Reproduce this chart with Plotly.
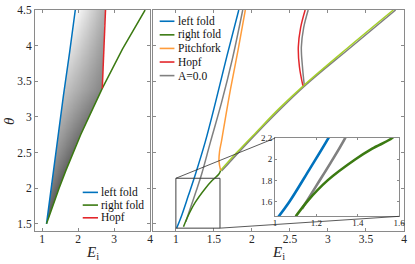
import numpy as np
import plotly.graph_objects as go

# ---------------- data ----------------
# left panel (A > 0 case with shaded region)
lp_left_E = [1.12, 1.27, 1.43, 1.59, 1.76, 1.92]
lp_left_th = [1.50, 2.10, 2.70, 3.30, 3.90, 4.50]
lp_right_E = [1.12, 1.29, 1.47, 1.66, 1.86, 2.07, 2.30, 2.48, 2.67, 3.23, 3.86]
lp_right_th = [1.50, 1.75, 2.00, 2.25, 2.50, 2.75, 3.00, 3.20, 3.40, 3.95, 4.50]
lp_hopf_E = [2.67, 2.69, 2.71, 2.735, 2.76]
lp_hopf_th = [3.40, 3.65, 3.90, 4.20, 4.50]

# right panel
rp_left_E = [1.01, 1.07, 1.165, 1.258, 1.386, 1.52, 1.67, 1.827]
rp_left_th = [1.44, 1.60, 1.90, 2.20, 2.65, 3.20, 3.85, 4.50]
rp_right_E = [1.10, 1.155, 1.254, 1.389, 1.47, 1.566, 1.588]
rp_right_th = [1.46, 1.60, 1.80, 2.00, 2.10, 2.20, 2.25]
rp_right2_E = [1.588, 1.80, 2.06, 2.36, 2.68, 3.25, 3.86]
rp_right2_th = [2.25, 2.50, 2.79, 3.12, 3.44, 3.96, 4.50]
rp_pitch_E = [1.588, 1.567, 1.575, 1.60, 1.63, 1.72, 1.82, 1.913]
rp_pitch_th = [2.25, 2.38, 2.52, 2.66, 2.85, 3.40, 3.95, 4.50]
rp_hopf_E = [2.67, 2.625, 2.61, 2.64, 2.70]
rp_hopf_th = [3.44, 3.70, 3.98, 4.25, 4.50]
a0_fold_E = [1.13, 1.20, 1.27, 1.339, 1.455, 1.60, 1.74, 1.879]
a0_fold_th = [1.53, 1.75, 1.97, 2.20, 2.65, 3.20, 3.80, 4.50]
a0_right_E = [1.60, 2.07, 2.69, 3.27, 3.89]
a0_right_th = [2.24, 2.78, 3.43, 3.95, 4.50]
a0_hopf_E = [2.69, 2.665, 2.65, 2.68, 2.74]
a0_hopf_th = [3.43, 3.70, 3.98, 4.25, 4.50]

# zoom window and inset
zoom_E = [1.0, 1.58]
zoom_th = [1.44, 2.14]
inset_E = [1.0, 1.6]
inset_th = [1.46, 2.2]

# axes
XR1 = [0.8, 4.0]
XR2 = [0.7, 4.0]
YR = [1.4, 4.5]
x1_ticks = [1, 2, 3, 4]
x2_ticks = [1, 1.5, 2, 2.5, 3, 3.5, 4]
y_ticks = [1.5, 2, 2.5, 3, 3.5, 4, 4.5]
ix_ticks = [1, 1.2, 1.4, 1.6]
iy_ticks = [1.6, 1.8, 2, 2.2]

legend_left = ["left fold", "right fold", "Hopf"]
legend_right = ["left fold", "right fold", "Pitchfork", "Hopf", "A=0.0"]
x_title = "<i>E</i><sub>i</sub>"
y_title = "<i>θ</i>"

# ---------------- styles ----------------
BLUE = "#0072BD"
GREEN = "#3B7A12"
LIME = "#A5CF2A"
ORANGE = "#FF9C3A"
RED = "#E3262B"
GRAY = "#808080"
FONT = "Liberation Serif"
TXT = "#262626"
legend_left_colors = [BLUE, GREEN, RED]
legend_right_colors = [BLUE, GREEN, ORANGE, RED, GRAY]

W, H = 415, 264
ML, MR, MT, MB = 35, 5, 5, 33
PW, PH = W - ML - MR, H - MT - MB


def fx(px):
    return (px - ML) / PW


def fy(py):
    return (H - MB - py) / PH


LEFT_DOM = [fx(35), fx(152)]
RIGHT_DOM = [fx(155), fx(410)]
INSET_XDOM = [fx(279), fx(405)]
INSET_YDOM = [fy(216), fy(136)]

fig = go.Figure()

# ---------- shaded region (left panel) ----------
E_grid = np.linspace(XR1[0], XR1[1], 360)
th_grid = np.linspace(YR[0], YR[1], 420)
EE, TT = np.meshgrid(E_grid, th_grid)
left_b = np.interp(TT, lp_left_th, lp_left_E)
right_b = np.where(TT <= lp_hopf_th[0],
                   np.interp(TT, lp_right_th, lp_right_E),
                   np.interp(TT, lp_hopf_th, lp_hopf_E))
inside = (TT >= lp_left_th[0]) & (TT <= lp_left_th[-1]) & (EE >= left_b) & (EE <= right_b)
u = np.clip((EE - left_b) / np.maximum(right_b - left_b, 1e-6), 0, 1)
v = np.clip((TT - lp_left_th[0]) / (lp_left_th[-1] - lp_left_th[0]), 0, 1)
Z = 100 + 155 * v - 80 * u * np.sqrt(v)
Z = np.where(inside, np.clip(Z, 0, 255), np.nan)
fig.add_trace(go.Heatmap(x=E_grid, y=th_grid, z=Z, xaxis="x", yaxis="y",
                         colorscale=[[0, "rgb(0,0,0)"], [1, "rgb(255,255,255)"]],
                         zmin=0, zmax=255, showscale=False, hoverinfo="skip"))


def line(x, y, color, xa, ya, width=1.5, shape="spline"):
    fig.add_trace(go.Scatter(x=x, y=y, mode="lines", xaxis=xa, yaxis=ya,
                             line=dict(color=color, width=width, shape=shape),
                             showlegend=False, hoverinfo="skip"))


# left panel lines
line(lp_left_E, lp_left_th, BLUE, "x", "y", shape="linear")
line(lp_right_E, lp_right_th, GREEN, "x", "y", shape="linear")
line(lp_hopf_E, lp_hopf_th, RED, "x", "y", shape="linear")

# right panel lines
line(a0_fold_E, a0_fold_th, GRAY, "x2", "y2")
line(a0_right_E, a0_right_th, GRAY, "x2", "y2")
line(a0_hopf_E, a0_hopf_th, GRAY, "x2", "y2")
line(rp_left_E, rp_left_th, BLUE, "x2", "y2")
line(rp_right_E, rp_right_th, GREEN, "x2", "y2")
line(rp_right2_E, rp_right2_th, LIME, "x2", "y2")
line(rp_pitch_E, rp_pitch_th, ORANGE, "x2", "y2")
line(rp_hopf_E, rp_hopf_th, RED, "x2", "y2")

# inset lines
line(a0_fold_E, a0_fold_th, GRAY, "x3", "y3", width=2.6)
line(rp_left_E, rp_left_th, BLUE, "x3", "y3", width=2.6)
line(rp_right_E, rp_right_th, GREEN, "x3", "y3", width=2.6)

# ---------- axes ----------
AX = dict(showline=True, linecolor="#8a8a8a", linewidth=1, mirror="ticks",
          ticks="inside", ticklen=3, tickcolor="#8a8a8a", showgrid=False,
          zeroline=False, tickfont=dict(family=FONT, size=11.5, color=TXT))

fig.update_layout(
    width=W, height=H, margin=dict(l=ML, r=MR, t=MT, b=MB),
    paper_bgcolor="white", plot_bgcolor="white", showlegend=False,
    xaxis=dict(AX, domain=LEFT_DOM, range=XR1, tickvals=x1_ticks, anchor="y", ticklabelstandoff=-3),
    yaxis=dict(AX, domain=[0, 1], range=YR, tickvals=y_ticks, anchor="x"),
    xaxis2=dict(AX, domain=RIGHT_DOM, range=XR2, tickvals=x2_ticks, anchor="y2", ticklabelstandoff=-3),
    yaxis2=dict(AX, domain=[0, 1], range=YR, tickvals=y_ticks, anchor="x2", showticklabels=False),
    xaxis3=dict(AX, domain=INSET_XDOM, range=inset_E, tickvals=ix_ticks, anchor="y3",
                ticklen=2, ticklabelstandoff=-2, tickfont=dict(family=FONT, size=9, color=TXT)),
    yaxis3=dict(AX, domain=INSET_YDOM, range=inset_th, tickvals=iy_ticks, anchor="x3",
                ticklen=2, tickfont=dict(family=FONT, size=9, color=TXT)),
)


# ---------- zoom box and connectors ----------
def e_from_paper(p):
    return XR2[0] + (p - RIGHT_DOM[0]) / (RIGHT_DOM[1] - RIGHT_DOM[0]) * (XR2[1] - XR2[0])


def th_from_paper(q):
    return YR[0] + q * (YR[1] - YR[0])


shapes = [dict(type="rect", xref="x2", yref="y2", x0=zoom_E[0], x1=zoom_E[1],
               y0=zoom_th[0], y1=zoom_th[1], line=dict(color="#404040", width=1))]
shapes.append(dict(type="line", xref="x2", yref="y2", x0=zoom_E[0], y0=zoom_th[1],
                   x1=e_from_paper(INSET_XDOM[0]), y1=th_from_paper(INSET_YDOM[1]),
                   line=dict(color="#303030", width=0.8)))
shapes.append(dict(type="line", xref="x2", yref="y2", x0=zoom_E[1], y0=zoom_th[0],
                   x1=e_from_paper(INSET_XDOM[1]), y1=th_from_paper(INSET_YDOM[0]),
                   line=dict(color="#303030", width=0.8)))

annotations = []

# ---------- axis titles ----------
for dom in (LEFT_DOM, RIGHT_DOM):
    annotations.append(dict(text=x_title, xref="paper", yref="paper",
                            x=(dom[0] + dom[1]) / 2, y=fy(253), xanchor="center", yanchor="middle",
                            showarrow=False, font=dict(family=FONT, size=15, color=TXT)))
annotations.append(dict(text=y_title, xref="paper", yref="paper", x=fx(8), y=fy(118),
                        xanchor="center", yanchor="middle", textangle=-90,
                        showarrow=False, font=dict(family=FONT, size=15, color=TXT)))


# ---------- legends (drawn as sample lines + text) ----------
def legend_block(labels, colors, x0px, x1px, ytop, dy):
    for i, (lab, col) in enumerate(zip(labels, colors)):
        ypx = ytop + i * dy
        shapes.append(dict(type="line", xref="paper", yref="paper",
                           x0=fx(x0px), x1=fx(x1px), y0=fy(ypx), y1=fy(ypx),
                           line=dict(color=col, width=1.6)))
        annotations.append(dict(text=lab, xref="paper", yref="paper",
                                x=fx(x1px + 1.5), y=fy(ypx), xanchor="left", yanchor="middle",
                                showarrow=False, font=dict(family=FONT, size=11.5, color="#111")))


legend_block(legend_left, legend_left_colors, 83.5, 99, 191.5, 13)
legend_block(legend_right, legend_right_colors, 161.7, 176.7, 16.5, 13.9)

fig.update_layout(shapes=shapes, annotations=annotations)
fig.write_html("out.html", config={"displayModeBar": False},
               post_script="document.body.style.margin='0';")
